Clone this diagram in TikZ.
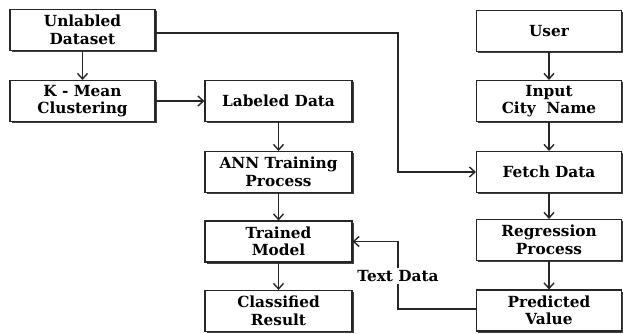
\documentclass[tikz,border=0pt]{standalone}
\usepackage{fontspec}
\setmainfont{DejaVu Serif}
\usetikzlibrary{arrows.meta,shadows}
\begin{document}
\begin{tikzpicture}[x=1pt,y=-1pt,
  procbox/.style={draw=black!85, line width=1.1pt, fill=white, minimum width=145pt, minimum height=41pt,
    align=center, font=\fontsize{15.3}{17.5}\selectfont\bfseries, inner sep=1pt,
    drop shadow={shadow xshift=1.6pt, shadow yshift=-1.8pt, fill=black!75, opacity=1}},
  flow/.style={draw=black!85, line width=1.3pt, -{Straight Barb[length=5.5pt,width=10pt,line width=1.4pt]}},
  plain/.style={draw=black!85, line width=1.3pt}
]
\useasboundingbox[fill=white] (0,0) rectangle (623,334);
% left column
\node[procbox] (unl) at (82.5,30) {Unlabled\\Dataset};
\node[procbox] (km) at (82.5,101) {K - Mean\\Clustering};
% middle column
\node[procbox, minimum width=147pt] (lab) at (278.5,101) {Labeled Data};
\node[procbox, minimum width=147pt] (ann) at (278.5,172) {ANN Training\\Process};
\node[procbox, minimum width=147pt] (tm) at (278.5,241.5) {Trained\\Model};
\node[procbox, minimum width=147pt] (cr) at (278.5,311) {Classified\\Result};
% right column
\node[procbox] (usr) at (549,31) {User};
\node[procbox] (inp) at (549,101) {Input\\City\ \ Name};
\node[procbox] (fd) at (549,172) {Fetch Data};
\node[procbox] (rp) at (549,240) {Regression\\Process};
\node[procbox] (pv) at (549,310.5) {Predicted\\Value};
% connectors
\coordinate (c1) at (398,33);
\coordinate (c2) at (398,172);
\coordinate (c3) at (398,309);
\coordinate (c4) at (398,241.5);
\draw[flow] (unl) -- (km);
\draw[flow] (km) -- (lab);
\draw[flow] (lab) -- (ann);
\draw[flow] (ann) -- (tm);
\draw[flow] (tm) -- (cr);
\draw[flow] (usr) -- (inp);
\draw[flow] (inp) -- (fd);
\draw[flow] (fd) -- (rp);
\draw[flow] (rp) -- (pv);
\draw[flow] (unl.east |- c1) -- (c1) -- (c2) -- (fd.west);
\draw[flow] (pv.west |- c3) -- (c3) -- (c4) -- (tm.east);
\node[fill=white, inner sep=2pt, font=\fontsize{15.3}{17.5}\selectfont\bfseries] (td) at (398,276) {Text Data};
\end{tikzpicture}
\end{document}
